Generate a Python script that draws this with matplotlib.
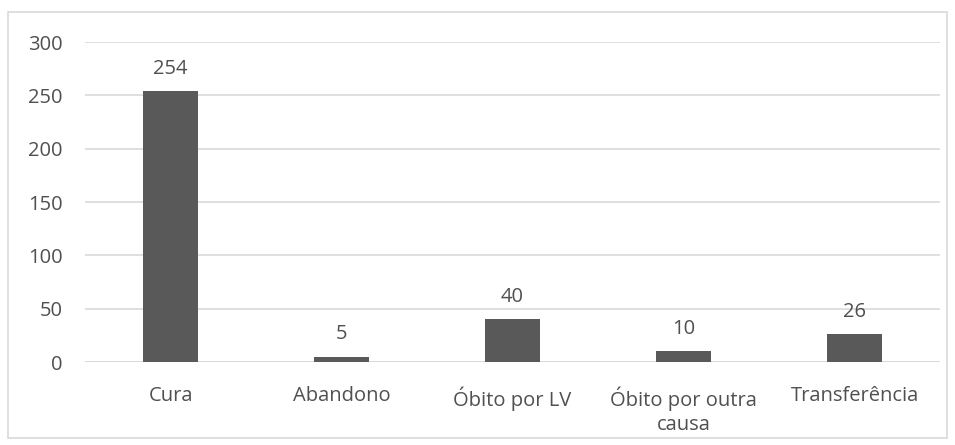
import matplotlib
matplotlib.use("Agg")
import matplotlib.pyplot as plt
from matplotlib.patches import Rectangle

categories = ["Cura", "Abandono", "Óbito por LV", "Óbito por outra\ncausa", "Transferência"]
values = [254, 5, 40, 10, 26]
yticks = [0, 50, 100, 150, 200, 250, 300]

text_color = "#505050"
bar_color = "#595959"
grid_color = "#d9d9d9"

plt.rcParams["font.family"] = ["Open Sans", "DejaVu Sans"]

fig = plt.figure(figsize=(9.55, 4.45), dpi=100)
fig.patch.set_facecolor("white")
# outer chart frame
fig.patches.append(Rectangle((8 / 955, 1 - 438 / 445), 939 / 955, 426 / 445,
                             transform=fig.transFigure, fill=False,
                             edgecolor=grid_color, linewidth=1.2))

ax = fig.add_axes([85 / 955, 1 - 362 / 445, 855 / 955, 320 / 445])
x = list(range(len(categories)))
bars = ax.bar(x, values, width=0.32, color=bar_color, zorder=3)

ax.set_xlim(-0.5, len(categories) - 0.5)
ax.set_ylim(0, 300)
ax.set_yticks(yticks)
ax.set_yticklabels([str(t) for t in yticks])
ax.set_xticks(x)
ax.set_xticklabels(categories, linespacing=1.3)
ax.tick_params(axis="both", length=0, labelsize=14.5, colors=text_color)
ax.tick_params(axis="y", pad=16)
ax.tick_params(axis="x", pad=17.5)
ax.grid(axis="y", color=grid_color, linewidth=1.2, zorder=0)
for s in ax.spines.values():
    s.set_visible(False)
ax.axhline(0, color=grid_color, linewidth=1.2, zorder=1)

for b, v in zip(bars, values):
    ax.annotate(str(v), (b.get_x() + b.get_width() / 2, v),
                xytext=(0, 9), textcoords="offset points",
                ha="center", va="bottom", fontsize=14.5, color=text_color)

fig.savefig("out.png", dpi=100)
